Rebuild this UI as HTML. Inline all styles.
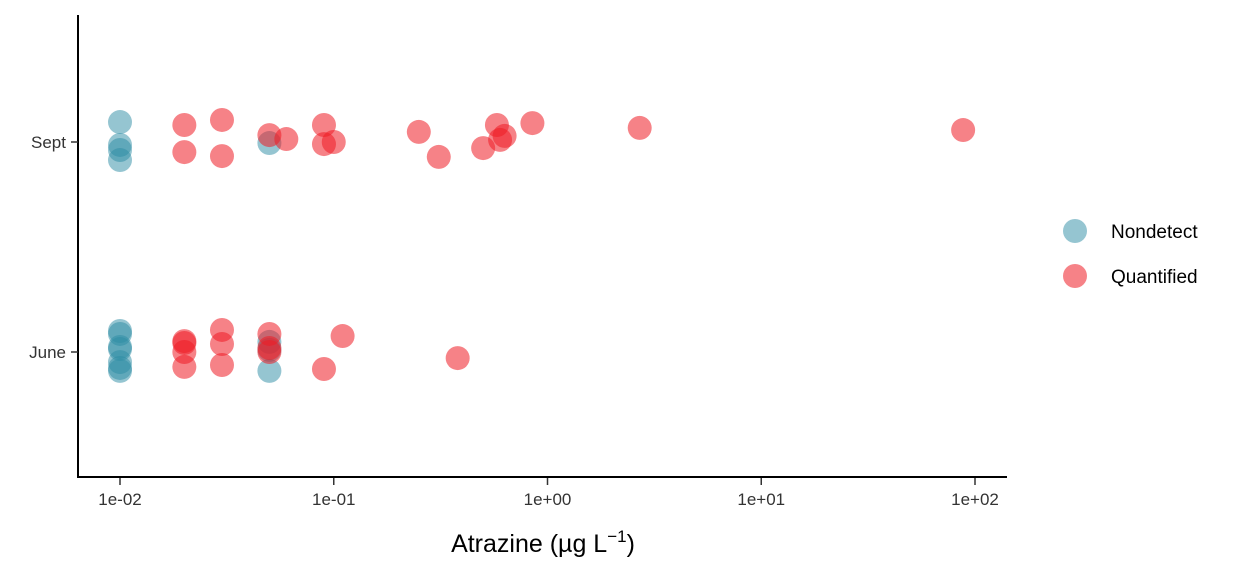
<!DOCTYPE html>
<html><head><meta charset="utf-8"><style>
body{margin:0;background:#fff;width:1248px;height:576px;overflow:hidden}
text{font-family:"Liberation Sans",Arial,sans-serif}
</style></head><body>
<svg id="chart" width="1248" height="576" xmlns="http://www.w3.org/2000/svg">
<g id="axes">
<line x1="78" y1="15" x2="78" y2="478" stroke="#000" stroke-width="2"/>
<line x1="77" y1="477" x2="1007" y2="477" stroke="#000" stroke-width="2"/>
</g>
<g id="marks"></g>
<text x="543" y="552" font-size="25" text-anchor="middle">Atrazine (µg L<tspan dy="-10" font-size="17">−1</tspan><tspan dy="10">)</tspan></text>
<g>
<circle cx="1075" cy="231" r="12" fill="#2b8ca3" fill-opacity="0.5"/>
<text x="1111" y="238" font-size="19">Nondetect</text>
<circle cx="1075" cy="276" r="12" fill="#ee1c25" fill-opacity="0.55"/>
<text x="1111" y="283" font-size="19">Quantified</text>
</g>
</svg>
<script>
const categories = ["June","Sept"];
const xTickValues = [0.01,0.1,1,10,100];
const xTickLabels = ["1e-02","1e-01","1e+00","1e+01","1e+02"];
const septNdX = [0.01,0.01,0.01,0.01,0.05];
const septNdJ = [0.095,-0.014,-0.038,-0.086,-0.005];
const septQX = [0.02,0.02,0.03,0.03,0.05,0.06,0.09,0.09,0.10,0.25,0.31,0.5,0.58,0.6,0.63,0.85,2.7,88];
const septQJ = [0.081,-0.048,0.105,-0.067,0.033,0.014,0.081,-0.010,0,0.048,-0.071,-0.029,0.081,0.010,0.029,0.090,0.067,0.057];
const juneNdX = [0.01,0.01,0.01,0.01,0.01,0.01,0.01,0.05,0.05,0.05];
const juneNdJ = [0.100,0.086,0.024,0.014,-0.048,-0.076,-0.090,0.048,0.010,-0.090];
const juneQX = [0.02,0.02,0.02,0.02,0.03,0.03,0.03,0.05,0.05,0.05,0.09,0.11,0.38];
const juneQJ = [0.052,0.043,0,-0.071,0.105,0.038,-0.062,0.086,0.019,0,-0.081,0.076,-0.029];

const NS="http://www.w3.org/2000/svg";
const svg=document.getElementById('chart');
const marks=document.getElementById('marks');
function xScale(v){return 120+(Math.log10(v)+2)*213.75;}
const catY={June:352,Sept:142};
function yScale(cat,j){return catY[cat]-j*210;}

xTickValues.forEach((v,i)=>{
  const x=xScale(v);
  const t=document.createElementNS(NS,'line');
  t.setAttribute('x1',x);t.setAttribute('x2',x);t.setAttribute('y1',478);t.setAttribute('y2',485);
  t.setAttribute('stroke','#333');t.setAttribute('stroke-width','1.5');
  
  
  svg.appendChild(t);
  const l=document.createElementNS(NS,'text');
  l.setAttribute('x',x);l.setAttribute('y',505);l.setAttribute('font-size','17');
  l.setAttribute('text-anchor','middle');l.setAttribute('fill','#333');
  l.textContent=xTickLabels[i];
  
  
  svg.appendChild(l);
});
categories.forEach(c=>{
  const y=catY[c];
  const t=document.createElementNS(NS,'line');
  t.setAttribute('x1',71);t.setAttribute('x2',78);t.setAttribute('y1',y);t.setAttribute('y2',y);
  t.setAttribute('stroke','#333');t.setAttribute('stroke-width','1.5');
  
  
  svg.appendChild(t);
  const l=document.createElementNS(NS,'text');
  l.setAttribute('x',66);l.setAttribute('y',y+6);l.setAttribute('font-size','17');
  l.setAttribute('text-anchor','end');l.setAttribute('fill','#333');
  l.textContent=c;
  
  
  svg.appendChild(l);
});
function drawPts(xs,js,cat,color,op,name){
  xs.forEach((v,i)=>{
    const c=document.createElementNS(NS,'circle');
    c.setAttribute('cx',xScale(v));c.setAttribute('cy',yScale(cat,js[i]));
    c.setAttribute('r',12);c.setAttribute('fill',color);c.setAttribute('fill-opacity',op);
    
    
    marks.appendChild(c);
  });
}
drawPts(septNdX,septNdJ,'Sept','#2b8ca3',0.5,'point-nondetect');
drawPts(juneNdX,juneNdJ,'June','#2b8ca3',0.5,'point-nondetect');
drawPts(septQX,septQJ,'Sept','#ee1c25',0.55,'point-quantified');
drawPts(juneQX,juneQJ,'June','#ee1c25',0.55,'point-quantified');
</script>
</body></html>
